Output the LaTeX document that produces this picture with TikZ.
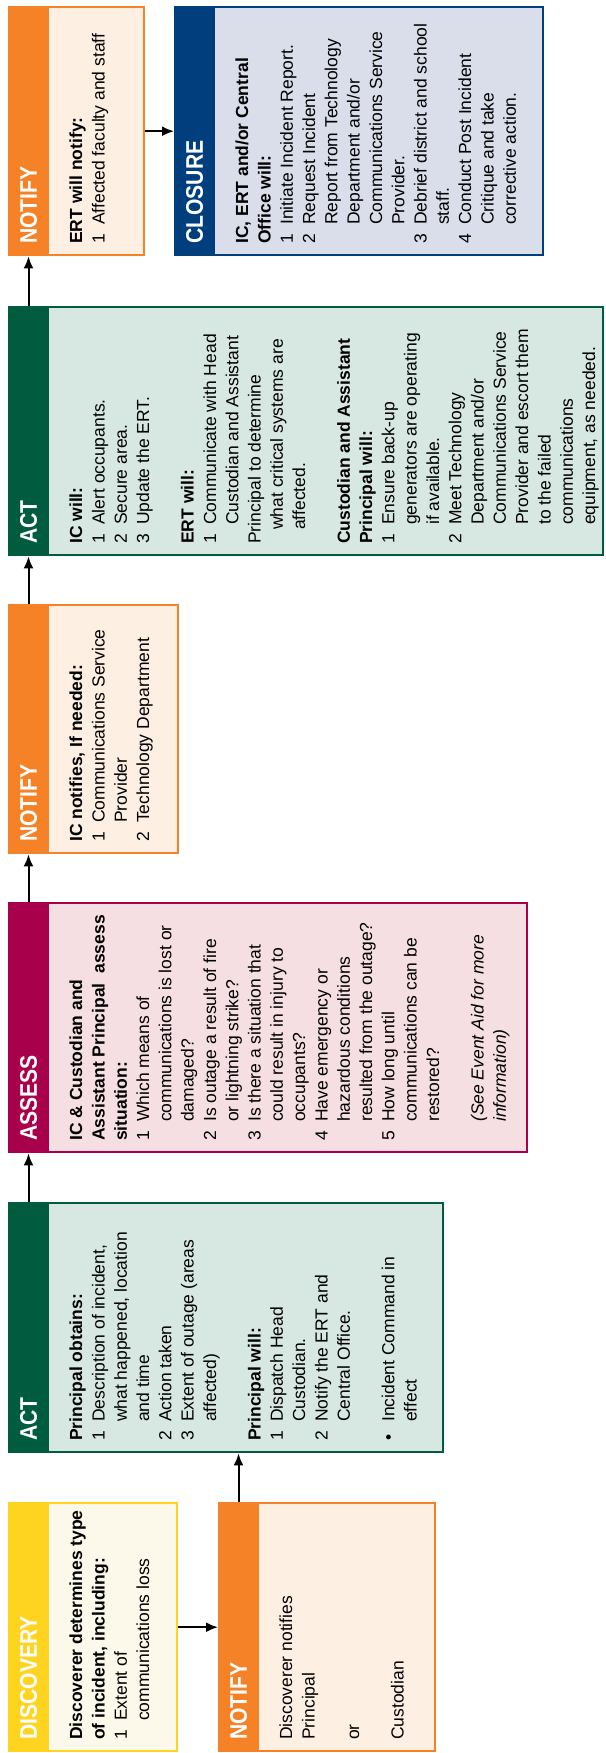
\documentclass[tikz,border=0pt]{standalone}
\usepackage{fontspec}
\setmainfont{Liberation Sans}
\newfontfamily\ttlfont[FakeStretch=0.88]{Liberation Sans}
\usetikzlibrary{arrows.meta,calc}
\definecolor{yelD}{HTML}{FFD420}
\definecolor{yelL}{HTML}{FDF9EA}
\definecolor{oraD}{HTML}{F58226}
\definecolor{oraL}{HTML}{FEEFE3}
\definecolor{grnD}{HTML}{005B3F}
\definecolor{grnL}{HTML}{D7E8E2}
\definecolor{crmD}{HTML}{A8004A}
\definecolor{crmL}{HTML}{F5DFE3}
\definecolor{navD}{HTML}{003E7E}
\definecolor{navL}{HTML}{D9DEEA}
\newcommand\bodysz{\fontsize{17.5}{22.3}\selectfont}
\newcommand\nm[2]{\makebox[19pt][l]{#1}#2}
\newcommand\ct[1]{\hspace*{19pt}#1}
\newcommand\ctb[1]{\hspace*{14pt}#1}
\newcommand\mkcard[8]{%
  \node[cardbody, draw=#6, fill=#7, minimum width=#4pt, minimum height=#5pt] (#1) at (#2,#3) {};
  \node[cardhead, fill=#6, minimum height=#5pt] (#1h) at (#2,#3) {};
  \node[ttl] (#1t) at ($(#1h.south)+(0,-10)$) {#8};
}
\tikzset{
  cardbody/.style={anchor=north west, inner sep=0pt, line width=2.4pt, rectangle},
  cardhead/.style={anchor=north west, inner sep=0pt, outer sep=0pt, minimum width=41pt, rectangle},
  ttl/.style={rotate=90, anchor=west, inner sep=0pt, text=white, font=\ttlfont\bfseries\fontsize{24}{24}\selectfont},
  bodytxt/.style={rotate=90, anchor=north west, inner sep=0pt, align=left, text=black, font=\bodysz},
  arr/.style={line width=2pt, -{Latex[length=12pt,width=10pt]}}
}
\begin{document}
\begin{tikzpicture}[x=1pt,y=-1pt]
\useasboundingbox (0,0) rectangle (605,1753);

\mkcard{disc}{8}{1502}{168}{248}{yelD}{yelL}{DISCOVERY}
\mkcard{nota}{218}{1502}{216}{248}{oraD}{oraL}{NOTIFY}
\mkcard{acta}{8}{1202}{434}{249}{grnD}{grnL}{ACT}
\mkcard{asse}{8}{902}{518}{249}{crmD}{crmL}{ASSESS}
\mkcard{notb}{8}{604}{169}{248}{oraD}{oraL}{NOTIFY}
\mkcard{actb}{8}{306}{594}{248}{grnD}{grnL}{ACT}
\mkcard{notc}{8}{6}{135}{248}{oraD}{oraL}{NOTIFY}
\mkcard{clos}{174}{6}{368}{248}{navD}{navL}{CLOSURE}

\node[bodytxt] (discb) at ($(disch.south east)+(17.4,-10)$) {%
\strut\textbf{Discoverer determines type}\\
\textbf{of incident, including:}\\
\nm{1}{Extent of}\\
\ct{communications loss}};

\node[bodytxt] (notab) at ($(notah.south east)+(17.4,-10)$) {%
\strut Discoverer notifies\\
Principal\\[22.3pt]
or\\[22.3pt]
Custodian};

\node[bodytxt] (actab) at ($(actah.south east)+(17.4,-10)$) {%
\strut\textbf{Principal obtains:}\\
\nm{1}{Description of incident,}\\
\ct{what happened, location}\\
\ct{and time}\\
\nm{2}{Action taken}\\
\nm{3}{Extent of outage (areas}\\
\ct{affected)}\\[22.3pt]
\textbf{Principal will:}\\
\nm{1}{Dispatch Head}\\
\ct{Custodian.}\\
\nm{2}{Notify the ERT and}\\
\ct{Central Office.}\\[22.3pt]
\nm{\textbullet}{Incident Command in}\\
\ct{effect}};

\node[bodytxt] (asseb) at ($(asseh.south east)+(17.4,-10)$) {%
\strut\textbf{IC \& Custodian and}\\
\textbf{Assistant Principal\ \ assess}\\
\textbf{situation:}\\
\nm{1}{Which means of}\\
\ct{communications is lost or}\\
\ct{damaged?}\\
\nm{2}{Is outage a result of fire}\\
\ct{or lightning strike?}\\
\nm{3}{Is there a situation that}\\
\ct{could result in injury to}\\
\ct{occupants?}\\
\nm{4}{Have emergency or}\\
\ct{hazardous conditions}\\
\ct{resulted from the outage?}\\
\nm{5}{How long until}\\
\ct{communications can be}\\
\ct{restored?}\\[22.3pt]
\ct{\itshape (See Event Aid for more}\\
\ct{\itshape information)}};

\node[bodytxt] (notbb) at ($(notbh.south east)+(17.4,-10)$) {%
\strut\textbf{IC notifies, If needed:}\\
\nm{1}{Communications Service}\\
\ct{Provider}\\
\nm{2}{Technology Department}};

\node[bodytxt] (actbb) at ($(actbh.south east)+(17.4,-10)$) {%
\strut\textbf{IC will:}\\
\nm{1}{Alert occupants.}\\
\nm{2}{Secure area.}\\
\nm{3}{Update the ERT.}\\[22.3pt]
\textbf{ERT will:}\\
\nm{1}{Communicate with Head}\\
\ct{Custodian and Assistant}\\
Principal to determine\\
\ctb{what critical systems are}\\
\ctb{affected.}\\[22.3pt]
\textbf{Custodian and Assistant}\\
\textbf{Principal will:}\\
\nm{1}{Ensure back-up}\\
\ct{generators are operating}\\
\ct{if available.}\\
\nm{2}{Meet Technology}\\
\ct{Department and/or}\\
\ct{Communications Service}\\
\ct{Provider and escort them}\\
\ct{to the failed}\\
\ct{communications}\\
\ct{equipment, as needed.}};

\node[bodytxt] (notcb) at ($(notch.south east)+(17.4,-10)$) {%
\strut\textbf{ERT will notify:}\\
\nm{1}{Affected faculty and staff}};

\node[bodytxt] (closb) at ($(closh.south east)+(17.4,-10)$) {%
\strut\textbf{IC, ERT and/or Central}\\
\textbf{Office will:}\\
\nm{1}{Initiate Incident Report.}\\
\nm{2}{Request Incident}\\
\ct{Report from Technology}\\
\ct{Department and/or}\\
\ct{Communications Service}\\
\ct{Provider.}\\
\nm{3}{Debrief district and school}\\
\ct{staff.}\\
\nm{4}{Conduct Post Incident}\\
\ct{Critique and take}\\
\ct{corrective action.}};

\draw[arr] (disc.east) -- (nota.west);
\draw[arr] (notah.north) -- (notah.north |- acta.south);
\draw[arr] (actah.north) -- (actah.north |- asse.south);
\draw[arr] (asseh.north) -- (asseh.north |- notb.south);
\draw[arr] (notbh.north) -- (notbh.north |- actb.south);
\draw[arr] (actbh.north) -- (actbh.north |- notc.south);
\draw[arr] (notc.east) -- (clos.west);
\end{tikzpicture}
\end{document}
